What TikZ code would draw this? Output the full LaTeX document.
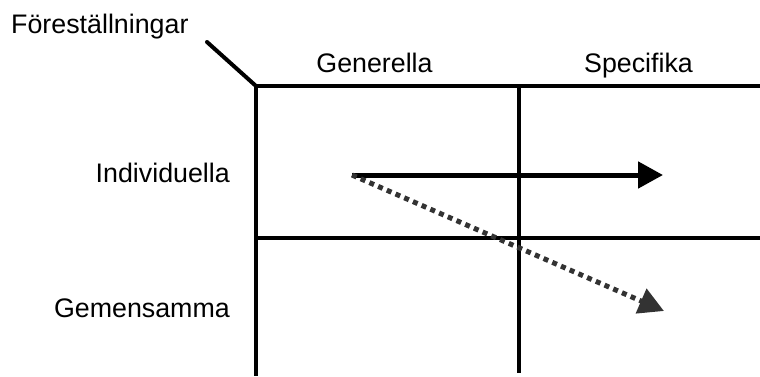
\documentclass[tikz,border=0pt]{standalone}
\usepackage{fontspec}
\setmainfont{Liberation Sans}
\usepackage{xcolor}
\definecolor{ink}{HTML}{000000}
\definecolor{dotink}{HTML}{333333}
\usetikzlibrary{arrows.meta,positioning,calc}
\tikzset{
  lab/.style={font=\fontsize{26.8}{32}\selectfont,inner sep=0pt},
  grid/.style={draw=ink,line width=4pt},
  arr/.style={-{Triangle[length=25pt,width=26pt]},draw=ink,line width=5pt},
  darr/.style={-{Triangle[length=25pt,width=26pt]},draw=dotink,line width=5pt,dash pattern=on 5pt off 4.5pt},
}

\begin{document}
\begin{tikzpicture}[x=1pt,y=-1pt]
\useasboundingbox (0,0) rectangle (760,376);
% grid
\coordinate (corner) at (256,86);
\draw[grid,line cap=round] (207,42) -- (corner);
\draw[grid] (corner) -- (760,86);
\draw[grid] (corner) -- (256,376);
\draw[grid] (519,86) -- (519,373);
\draw[grid] (254,238) -- (760,238);
% labels
\node[lab,anchor=base west] (fore) at (11,33) {Föreställningar};
\node[lab,anchor=base] (gen) at (374.5,72) {Generella};
\node[lab,anchor=base] (spec) at (638.5,72) {Specifika};
\node[lab,anchor=base east] (indiv) at (230,182) {Individuella};
\node[lab,anchor=base east] (gem) at (230,317) {Gemensamma};
% arrows
\coordinate (start) at (352,175);
\coordinate (solidend) at (663,175);
\coordinate (dotend) at (664,311);
\draw[arr] (start) -- (solidend);
\draw[darr] (start) -- (dotend);
\end{tikzpicture}
\end{document}
